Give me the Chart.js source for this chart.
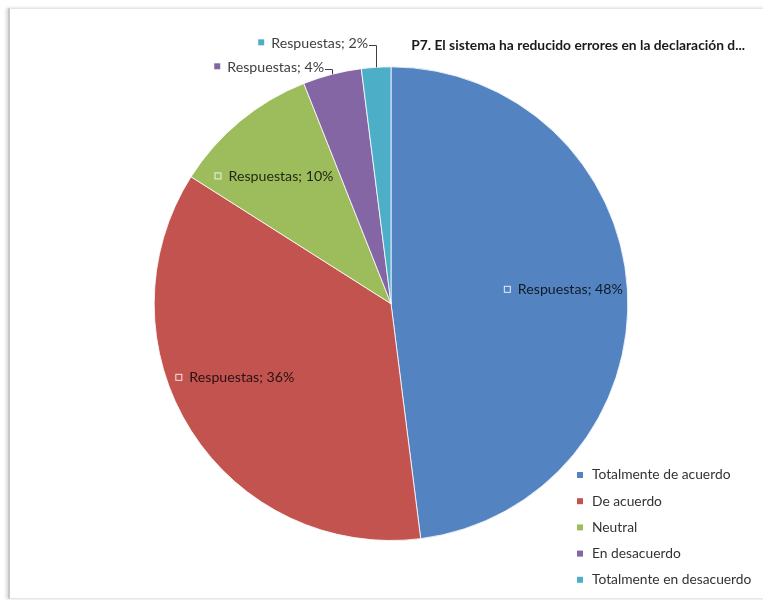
<!DOCTYPE html>
<html>
<head>
<meta charset="utf-8">
<script src="https://cdn.jsdelivr.net/npm/chart.js@4.4.1/dist/chart.umd.min.js"></script>
<style>
  html, body { margin: 0; padding: 0; background: #fff; }
  .quadro {
    position: absolute; left: 8px; top: 8px; width: 770px; height: 589px;
    border-left: 2px solid #c8c8c8; border-top: 1px solid #e6e6e6; border-bottom: 1px solid #e6e6e6;
    box-shadow: -2px 0 3px rgba(0,0,0,0.15);
  }
  #grafico-p7 { position: absolute; left: 0; top: 0; }
</style>
</head>
<body>
<div class="quadro"></div>
<canvas id="grafico-p7" width="763" height="600"></canvas>
<script>
// dados da pergunta P7
const categorias = ['Totalmente de acuerdo', 'De acuerdo', 'Neutral', 'En desacuerdo', 'Totalmente en desacuerdo'];
const respuestas = [48, 36, 10, 4, 2];
const nomeSerie = 'Respuestas';
const titulo = 'P7. El sistema ha reducido errores en la declaración d...';
const cores = ['#5384C1', '#C3534F', '#9DBC5C', '#8466A4', '#4DAEC8'];

// rotulos de dados no estilo do Excel
const rotulosPlugin = {
  id: 'rotulos',
  afterDatasetsDraw(chart, args, opts) {
    const ctx = chart.ctx;
    const meta = chart.getDatasetMeta(0);
    ctx.save();
    ctx.font = opts.font;
    ctx.textBaseline = 'middle';
    meta.data.forEach((arc, i) => {
      const p = arc.getProps(['x', 'y', 'startAngle', 'endAngle', 'outerRadius'], true);
      const meio = (p.startAngle + p.endAngle) / 2;
      const texto = nomeSerie + '; ' + respuestas[i] + '%';
      const larg = ctx.measureText(texto).width;
      const fora = opts.fora[i];
      if (fora === undefined) {
        const ang = meio + (opts.ajuste[i] || 0) * Math.PI / 180;
        const cx = p.x + Math.cos(ang) * p.outerRadius * opts.raio;
        const cy = p.y + Math.sin(ang) * p.outerRadius * opts.raio;
        const total = 7 + 7 + larg;
        const x0 = cx - total / 2;
        ctx.fillStyle = cores[i];
        ctx.fillRect(x0, cy - 4, 7, 7);
        ctx.strokeStyle = 'rgba(255,255,255,0.85)';
        ctx.lineWidth = 1;
        ctx.strokeRect(x0 + 0.5, cy - 3.5, 6, 6);
        ctx.fillStyle = 'rgba(0,0,0,0.8)';
        ctx.textAlign = 'left';
        ctx.fillText(texto, x0 + 14, cy);
      } else {
        const ox = p.x + Math.cos(meio) * p.outerRadius;
        const oy = p.y + Math.sin(meio) * p.outerRadius;
        const ly = oy - fora;
        ctx.strokeStyle = '#404040';
        ctx.lineWidth = 1;
        ctx.beginPath();
        ctx.moveTo(Math.round(ox) + 0.5, oy);
        ctx.lineTo(Math.round(ox) + 0.5, Math.round(ly + 2) + 0.5);
        ctx.lineTo(Math.round(ox) - 7, Math.round(ly + 2) + 0.5);
        ctx.stroke();
        const xFim = Math.round(ox) - 8;
        ctx.fillStyle = '#404040';
        ctx.textAlign = 'right';
        ctx.fillText(texto, xFim, ly);
        ctx.fillStyle = cores[i];
        ctx.fillRect(xFim - larg - 13, ly - 4, 6, 6);
      }
    });
    ctx.restore();
  }
};

// legenda desenhada no canto inferior direito
const legendaPlugin = {
  id: 'legendaCanto',
  afterDraw(chart, args, opts) {
    const ctx = chart.ctx;
    ctx.save();
    ctx.font = opts.font;
    ctx.textBaseline = 'middle';
    ctx.textAlign = 'left';
    categorias.forEach((cat, i) => {
      const y = opts.y + i * opts.passo;
      ctx.fillStyle = cores[i];
      ctx.fillRect(opts.x, y - 3, 6, 6);
      ctx.fillStyle = '#333';
      ctx.fillText(cat, opts.x + 15, y);
    });
    ctx.restore();
  }
};

const ctxP7 = document.getElementById('grafico-p7').getContext('2d');

const graficoP7 = new Chart(ctxP7, {
  type: 'pie',
  data: {
    labels: categorias,
    datasets: [{
      label: nomeSerie,
      data: respuestas,
      backgroundColor: cores,
      borderColor: 'rgba(255,255,255,0.8)',
      borderWidth: 1
    }]
  },
  options: {
    responsive: false,
    animation: false,
    layout: {
      padding: { left: 37, right: 18, top: 0, bottom: 59 }
    },
    plugins: {
      legend: { display: false },
      tooltip: { enabled: false },
      title: {
        display: true,
        text: titulo,
        align: 'end',
        color: '#1a1a1a',
        font: { family: 'Lato', size: 13.8, weight: 'bold' },
        lineHeight: 1.1,
        padding: { top: 37, bottom: 12.8 }
      },
      rotulos: {
        font: '14.2px Lato',
        raio: 0.73,
        ajuste: { 0: -1, 1: 7, 2: -3 },
        fora: { 3: 7, 4: 24 }
      },
      legendaCanto: {
        font: '13.8px Lato',
        x: 577,
        y: 475,
        passo: 26.2
      }
    }
  },
  plugins: [rotulosPlugin, legendaPlugin]
});
</script>
</body>
</html>
